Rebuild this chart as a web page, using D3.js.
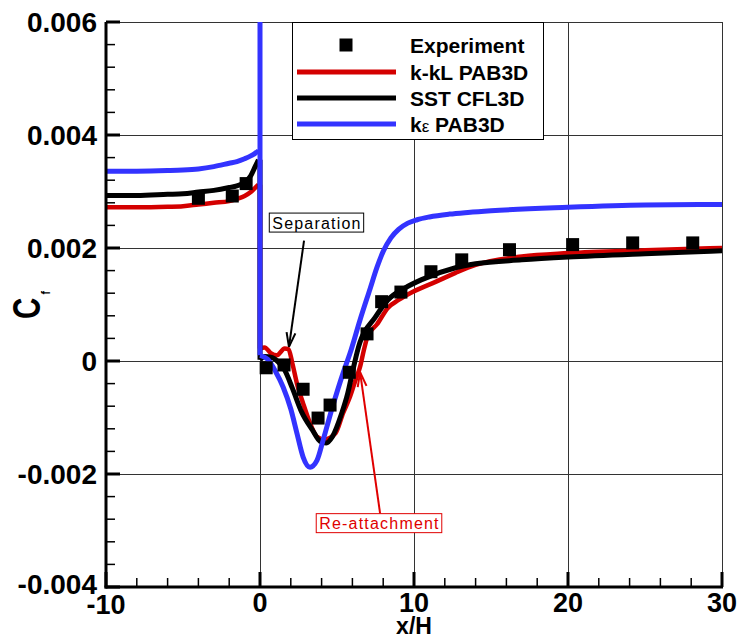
<!DOCTYPE html>
<html><head><meta charset="utf-8">
<script src="https://cdn.jsdelivr.net/npm/d3@7"></script>
<style>body{margin:0;background:#fff} svg{display:block} text{font-family:"Liberation Sans",Arial,Helvetica,sans-serif}</style>
</head><body><svg id="c" width="743" height="638"></svg>
<script>
// ---------- data ----------
const xMajorTicks = [-10, 0, 10, 20, 30];
const xTickLabels = ["-10", "0", "10", "20", "30"];
const yMajorTicks = [-0.004, -0.002, 0, 0.002, 0.004, 0.006];
const yTickLabels = ["-0.004", "-0.002", "0", "0.002", "0.004", "0.006"];
const seriesNames = ["Experiment", "k-kL PAB3D", "SST CFL3D", "kε PAB3D"];

const expX  = [-4.0, -1.8, -0.9, 0.4, 1.56, 2.8, 3.77, 4.55, 5.8, 6.95, 7.9, 9.15, 11.1, 13.1, 16.2, 20.3, 24.2, 28.1];
const expCf = [0.00288, 0.00292, 0.00314, -0.00012, -0.00007, -0.0005, -0.00101, -0.00078, -0.0002, 0.00048, 0.00105, 0.00122, 0.00158, 0.00179, 0.00197, 0.00206, 0.00209, 0.00209];

const preX = [-10, -8, -6, -5, -4, -3, -2, -1.5, -1, -0.6, -0.3, -0.1];
const kklPre = [0.00272, 0.00272, 0.00273, 0.00274, 0.00277, 0.0028, 0.00283, 0.00287, 0.00292, 0.00299, 0.00307, 0.00312];
const sstPre = [0.00293, 0.00293, 0.00295, 0.00296, 0.00299, 0.00302, 0.00307, 0.0031, 0.00316, 0.00328, 0.00345, 0.00356];
const kePre  = [0.00336, 0.00336, 0.00337, 0.00338, 0.0034, 0.00344, 0.0035, 0.00353, 0.00358, 0.00363, 0.00368, 0.00372];

const kklStep = [0.00312, 0.00022];
const sstStep = [0.00356, 0.00002];
const keStep  = [0.00372, 0.0065, 0.0001];

const kklPostX = [0, 0.3, 0.7, 1.1, 1.6, 1.85, 2.1, 2.4, 2.8, 3.25, 3.7, 4.2, 4.9, 5.4, 5.85, 6.2, 6.5, 6.75, 7.0, 7.6, 8.3, 9.0, 9.9, 11.4, 12.7, 14, 17, 20, 25, 30];
const kklPost  = [0.00022, 0.00024, 0.00014, 0.0001, 0.00022, 0.00021, -0.00004, -0.0004, -0.00075, -0.0011, -0.00134, -0.00139, -0.00128, -0.00092, -0.00063, -0.00034, -0.0001, 0.0002, 0.00045, 0.00065, 0.00094, 0.00108, 0.00122, 0.0014, 0.00156, 0.0017, 0.00185, 0.00191, 0.00196, 0.002];

const sstPostX = [0, 0.3, 0.8, 1.2, 1.6, 2.1, 2.7, 3.4, 3.9, 4.3, 4.7, 5.3, 5.7, 6.0, 6.4, 7.5, 8.3, 9.4, 10.5, 12.7, 14, 17, 20, 25, 30];
const sstPost  = [0.00002, 0.00008, 0.00006, -0.00002, -0.00016, -0.00048, -0.0009, -0.00122, -0.00142, -0.00145, -0.00134, -0.00093, -0.00057, -0.0002, 0.00025, 0.00078, 0.00108, 0.00129, 0.00144, 0.00165, 0.00172, 0.00179, 0.00184, 0.0019, 0.00195];

const kePostX = [0, 0.5, 1.0, 1.5, 2.0, 2.4, 2.8, 3.25, 3.7, 4.1, 4.7, 5.4, 5.85, 6.5, 7.15, 7.6, 8.0, 8.5, 9.0, 9.6, 10.2, 11.0, 12.3, 13.5, 15, 20, 25, 30];
const kePost  = [0.0001, 0.00003, -0.00018, -0.00046, -0.00085, -0.00128, -0.0017, -0.00188, -0.00176, -0.0014, -0.00082, -0.00021, 0.00014, 0.00073, 0.00128, 0.00166, 0.00194, 0.00218, 0.00233, 0.00244, 0.0025, 0.00255, 0.0026, 0.00263, 0.00266, 0.00272, 0.00276, 0.00277];

// annotations (data coords)
const sepLabel = {text: "Separation", x: 3.7, v: 0.00245, fromX: 2.86, fromV: 0.00213, toX: 1.88, toV: 0.00025};
const reaLabel = {text: "Re-attachment", x: 7.76, v: -0.00287, fromX: 7.8, fromV: -0.0027, toX: 6.5, toV: -0.0002};

// ---------- layout ----------
const svg = d3.select("#c");
const L = 106, R = 722, T = 22, B = 587;
const x = d3.scaleLinear().domain([-10, 30]).range([L, R]);
const y = d3.scaleLinear().domain([-0.004, 0.006]).range([B, T]);
const RED = "#d40000", BLUE = "#3333ff", BLK = "#000";

svg.append("defs").append("clipPath").attr("id", "clip")
  .append("rect").attr("x", L).attr("y", T).attr("width", R - L).attr("height", B - T);

// grid
const grid = svg.append("g").attr("shape-rendering", "crispEdges");
grid.selectAll(".gx").data(xMajorTicks.slice(1)).join("line")
  .attr("x1", d => x(d)).attr("x2", d => x(d)).attr("y1", T).attr("y2", B)
  .attr("stroke", "#333").attr("stroke-width", 1);
grid.selectAll(".gy").data(yMajorTicks.slice(1)).join("line")
  .attr("y1", d => y(d)).attr("y2", d => y(d)).attr("x1", L).attr("x2", R)
  .attr("stroke", "#333").attr("stroke-width", 1);

// curves
const g = svg.append("g").attr("clip-path", "url(#clip)");
function seg(xs, vs, curve, color, w) {
  const pts = xs.map((d, i) => [d, vs[i]]);
  g.append("path").datum(pts)
    .attr("d", d3.line().x(d => x(d[0])).y(d => y(d[1])).curve(curve))
    .attr("fill", "none").attr("stroke", color).attr("stroke-width", w)
    .attr("stroke-linejoin", "round");
}
function series(pre, step, postX, post, color, w) {
  seg(preX, pre, d3.curveMonotoneX, color, w);
  seg(step.map(() => 0), step, d3.curveLinear, color, w);
  seg(postX, post, d3.curveMonotoneX, color, w);
}
series(kklPre, kklStep, kklPostX, kklPost, RED, 4.5);
series(sstPre, sstStep, sstPostX, sstPost, BLK, 5);
series(kePre, keStep, kePostX, kePost, BLUE, 5);

// experiment squares
const S = 13;
g.selectAll(".exp").data(expX.map((d, i) => [d, expCf[i]])).join("rect")
  .attr("x", d => x(d[0]) - S / 2).attr("y", d => y(d[1]) - S / 2)
  .attr("width", S).attr("height", S).attr("fill", "#000");

// axes
const ax = svg.append("g");
ax.append("line").attr("x1", L).attr("x2", L).attr("y1", T).attr("y2", B + 1.5)
  .attr("stroke", "#000").attr("stroke-width", 3);
ax.append("line").attr("x1", L - 1.5).attr("x2", R + 1).attr("y1", B).attr("y2", B)
  .attr("stroke", "#000").attr("stroke-width", 3);
const xMinor = d3.range(-10, 30.01, 2).filter(d => !xMajorTicks.includes(d));
const yMinor = d3.range(-0.004, 0.00601, 0.0004).filter(d => !yMajorTicks.some(m => Math.abs(m - d) < 1e-9));
ax.selectAll(".xt").data(xMajorTicks).join("line")
  .attr("x1", d => x(d)).attr("x2", d => x(d)).attr("y1", B).attr("y2", B - 15)
  .attr("stroke", "#000").attr("stroke-width", 3);
ax.selectAll(".xm").data(xMinor).join("line")
  .attr("x1", d => x(d)).attr("x2", d => x(d)).attr("y1", B).attr("y2", B - 9)
  .attr("stroke", "#000").attr("stroke-width", 1.5);
ax.selectAll(".yt").data(yMajorTicks).join("line")
  .attr("y1", d => y(d)).attr("y2", d => y(d)).attr("x1", L).attr("x2", L + 14)
  .attr("stroke", "#000").attr("stroke-width", 3);
ax.selectAll(".ym").data(yMinor).join("line")
  .attr("y1", d => y(d)).attr("y2", d => y(d)).attr("x1", L).attr("x2", L + 9)
  .attr("stroke", "#000").attr("stroke-width", 1.5);

// tick labels
svg.selectAll(".yl").data(yMajorTicks).join("text")
  .attr("x", 97).attr("y", (d, i) => y(d) + (i === 0 ? 7 : 10))
  .attr("text-anchor", "end").attr("font-size", 28).attr("font-weight", "bold")
  .text((d, i) => yTickLabels[i]);
svg.selectAll(".xl").data(xMajorTicks).join("text")
  .attr("x", d => x(d)).attr("y", (d, i) => i === 0 ? 614 : 612)
  .attr("text-anchor", "middle").attr("font-size", 27).attr("font-weight", "bold")
  .text((d, i) => xTickLabels[i]);

// axis titles
svg.append("text").attr("x", 414).attr("y", 634).attr("text-anchor", "middle")
  .attr("font-size", 23).attr("font-weight", "bold").text("x/H");
const yt = svg.append("text").attr("transform", "translate(40,319) rotate(-90) scale(0.78,1)")
  .attr("font-size", 38).attr("font-weight", "bold");
yt.append("tspan").text("C");
yt.append("tspan").attr("font-size", 13).attr("dy", 10).attr("dx", 4).text("f");

// annotations
function arrow(a, color) {
  const x1 = x(a.fromX), y1 = y(a.fromV), x2 = x(a.toX), y2 = y(a.toV);
  svg.append("line").attr("x1", x1).attr("y1", y1).attr("x2", x2).attr("y2", y2)
    .attr("stroke", color).attr("stroke-width", 2);
  const ang = Math.atan2(y1 - y2, x1 - x2), len = 15, sp = 0.3;
  [ang - sp, ang + sp].forEach(t => {
    svg.append("line").attr("x1", x2).attr("y1", y2)
      .attr("x2", x2 + len * Math.cos(t)).attr("y2", y2 + len * Math.sin(t))
      .attr("stroke", color).attr("stroke-width", 2);
  });
}
function boxLabel(a, color) {
  const gg = svg.append("g");
  const r = gg.append("rect");
  const t = gg.append("text").attr("x", x(a.x)).attr("y", y(a.v) + 6)
    .attr("text-anchor", "middle").attr("font-size", 16).attr("letter-spacing", 1.2)
    .attr("fill", color).text(a.text);
  const bb = t.node().getBBox();
  r.attr("x", bb.x - 3).attr("y", y(a.v) - 9.5).attr("width", bb.width + 5).attr("height", 19)
    .attr("fill", "#fff").attr("stroke", color).attr("stroke-width", 1);
}
arrow(sepLabel, BLK);
boxLabel(sepLabel, BLK);
arrow(reaLabel, "#e00000");
boxLabel(reaLabel, "#e00000");

// legend
const lg = svg.append("g");
lg.append("rect").attr("x", 292).attr("y", 22).attr("width", 251).attr("height", 117)
  .attr("fill", "#fff").attr("stroke", "#000").attr("stroke-width", 1).attr("shape-rendering", "crispEdges");
const legY = [45, 72, 98, 124];
const legColors = [null, RED, BLK, BLUE];
lg.append("rect").attr("x", 346 - 6.5).attr("y", legY[0] - 6.5).attr("width", S).attr("height", S).attr("fill", "#000");
[1, 2, 3].forEach(i => {
  lg.append("line").attr("x1", 297).attr("x2", 396).attr("y1", legY[i]).attr("y2", legY[i])
    .attr("stroke", legColors[i]).attr("stroke-width", 5);
});
seriesNames.forEach((n, i) => {
  const t = lg.append("text").attr("x", 410).attr("y", legY[i] + 7.5)
    .attr("font-size", 21).attr("font-weight", "bold");
  if (n.includes("ε")) {
    t.append("tspan").text("k");
    t.append("tspan").attr("font-weight", "normal").attr("font-size", 17).text("ε");
    t.append("tspan").text(n.slice(2));
  } else t.text(n);
});
</script></body></html>
